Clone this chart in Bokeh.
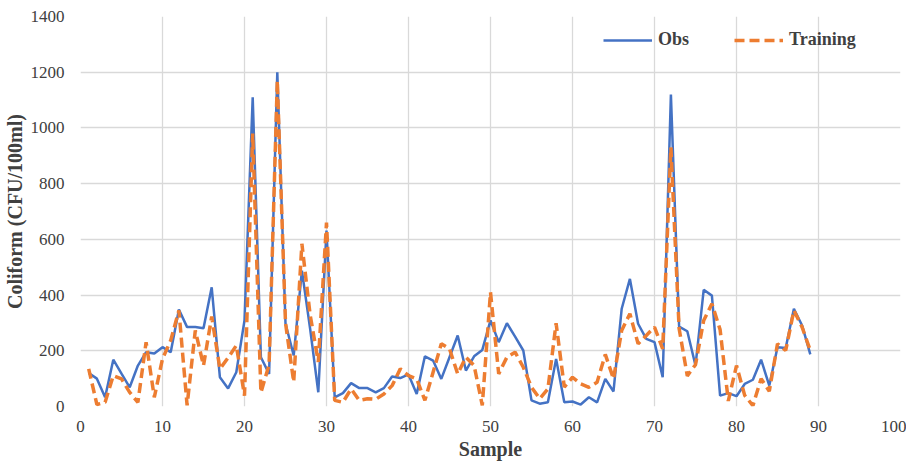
from bokeh.plotting import figure
from bokeh.models import Range1d, FixedTicker, Legend, LegendItem
from bokeh.embed import file_html
from bokeh.resources import INLINE

samples = list(range(1, 90))
obs = [120, 100, 33, 168, 118, 69, 147, 195, 190, 213,
       195, 348, 285, 285, 281, 428, 105, 65, 123, 309,
       1110, 177, 117, 1200, 298, 183, 488, 280, 51, 632,
       33, 48, 84, 66, 66, 51, 66, 108, 102, 115,
       45, 180, 165, 99, 177, 255, 129, 180, 203, 309,
       231, 299, 251, 201, 22, 10, 15, 171, 15, 18,
       7, 33, 15, 99, 54, 351, 458, 297, 243, 231,
       105, 1120, 287, 270, 147, 419, 398, 39, 48, 37,
       81, 96, 168, 75, 213, 210, 351, 291, 187]
training = [135, 7, 15, 111, 99, 51, 15, 231, 33, 171,
            237, 345, 4, 273, 147, 323, 135, 175, 219, 39,
            980, 50, 150, 1170, 300, 88, 584, 330, 160, 660,
            22, 15, 63, 22, 28, 26, 45, 75, 135, 111,
            99, 22, 123, 225, 207, 117, 177, 147, 4, 410,
            117, 177, 195, 141, 69, 28, 63, 299, 70, 105,
            81, 69, 87, 187, 99, 273, 333, 225, 255, 285,
            207, 930, 280, 110, 150, 309, 369, 276, 20, 147,
            40, 3, 100, 55, 225, 201, 345, 285, 201]

x_ticks = list(range(0, 101, 10))
y_ticks = list(range(0, 1401, 200))

p = figure(width=906, height=462, output_backend="svg", toolbar_location=None,
           x_range=Range1d(0, 100), y_range=Range1d(0, 1400),
           min_border_left=80, min_border_right=6, min_border_top=16, min_border_bottom=54)
p.outline_line_color = None
p.background_fill_color = "white"

r_obs = p.line(samples, obs, line_color="#4472C4", line_width=2.5)
r_tr = p.line(samples, training, line_color="#ED7D31", line_width=3.5, line_dash="10 5")

for ax, ticks in ((p.xaxis[0], x_ticks), (p.yaxis[0], y_ticks)):
    ax.ticker = FixedTicker(ticks=ticks)
    ax.major_tick_line_color = None
    ax.minor_tick_line_color = None
    ax.axis_line_color = None
    ax.major_label_text_font = "Liberation Serif"
    ax.major_label_text_font_size = "17px"
    ax.major_label_text_color = "#404040"
    ax.axis_label_text_font = "Liberation Serif"
    ax.axis_label_text_font_style = "bold"
    ax.axis_label_text_font_size = "20px"
    ax.axis_label_text_color = "#404040"

p.xaxis.axis_label = "Sample"
p.yaxis.axis_label = "Coliform (CFU/100ml)"
p.xaxis.major_label_standoff = 8
p.yaxis.major_label_standoff = 10
p.xaxis.axis_label_standoff = 3
p.yaxis.axis_label_standoff = 2

p.xgrid.ticker = FixedTicker(ticks=x_ticks)
p.ygrid.ticker = FixedTicker(ticks=y_ticks)
p.xgrid.grid_line_color = "#D9D9D9"
p.ygrid.grid_line_color = "#D9D9D9"
p.xgrid.grid_line_width = 1.3
p.ygrid.grid_line_width = 1.3

legend = Legend(items=[LegendItem(label="Obs", renderers=[r_obs]),
                       LegendItem(label="Training", renderers=[r_tr])],
                orientation="horizontal", location=(523, 356),
                padding=0, margin=0, spacing=45, glyph_width=49, glyph_height=20,
                label_standoff=6, border_line_color=None, background_fill_alpha=0,
                label_text_font="Liberation Serif", label_text_font_style="bold",
                label_text_font_size="18px", label_text_color="#404040")
p.add_layout(legend)

open("out.html", "w").write(file_html(p, INLINE))
